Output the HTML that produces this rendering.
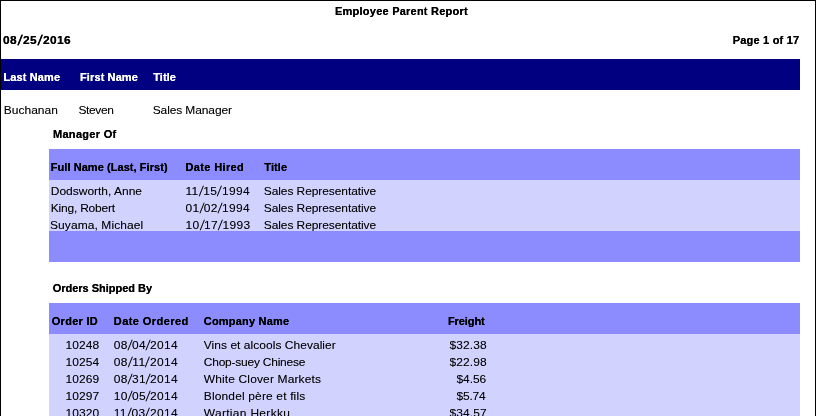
<!DOCTYPE html>
<html>
<head>
<meta charset="utf-8">
<title>Employee Parent Report</title>
<style>
html,body{margin:0;padding:0;background:#fff;}
body{width:816px;height:416px;overflow:hidden;position:relative;font-family:"Liberation Sans",sans-serif;font-size:11px;color:#000;}
#page{position:absolute;left:0;top:0;width:814px;height:430px;border:1px solid #000;border-bottom:none;background:#fff;}
.band{position:absolute;}
.navy{background:#000080;}
.mid{background:#8c8cff;}
.light{background:#d2d2ff;}
.t{position:absolute;white-space:nowrap;line-height:14px;height:14px;text-shadow:0 0 0 rgba(0,0,0,0.35);}
.b{font-weight:bold;text-shadow:0 0 0 currentColor;}
.r{font-size:12px;transform-origin:0 11px;transform:scaleY(0.9167);}
.w{color:#fff;}
.s{display:inline-block;transform:skewX(-9deg) scaleY(1.3);transform-origin:50% 7.5px;}
.b .s{transform:skewX(-12deg) scaleY(1.3);}
</style>
</head>
<body>
<div id="page"></div>

<div class="band navy" style="left:1px;top:59px;width:799px;height:31px"></div>
<div class="band mid" style="left:49px;top:149px;width:751px;height:31px"></div>
<div class="band light" style="left:49px;top:180px;width:751px;height:51px"></div>
<div class="band mid" style="left:49px;top:231px;width:751px;height:31px"></div>
<div class="band mid" style="left:49px;top:303px;width:751px;height:31px"></div>
<div class="band light" style="left:49px;top:334px;width:751px;height:90px"></div>

<div class="t b" style="left:335.00px;top:4px;letter-spacing:0.234px">Employee Parent Report</div>
<div class="t b r" style="left:3.00px;top:33px;letter-spacing:0.33px">08<span class="s" style="padding:0 1.16px">/</span>25<span class="s" style="padding:0 1.16px">/</span>2016</div>
<div class="t b" style="left:732.75px;top:33px;letter-spacing:0.197px">Page 1 of 17</div>
<div class="t b w" style="left:3.50px;top:70px;letter-spacing:0.123px">Last Name</div>
<div class="t b w" style="left:80.00px;top:70px;letter-spacing:0.113px">First Name</div>
<div class="t b w" style="left:153.25px;top:70px;letter-spacing:0.051px">Title</div>
<div class="t r" style="left:3.75px;top:103px;letter-spacing:0.018px">Buchanan</div>
<div class="t r" style="left:78.50px;top:103px;letter-spacing:-0.387px">Steven</div>
<div class="t r" style="left:152.70px;top:103px;letter-spacing:-0.118px">Sales Manager</div>
<div class="t b" style="left:53.00px;top:127px;letter-spacing:0.295px">Manager Of</div>
<div class="t b" style="left:50.75px;top:160px;letter-spacing:0.063px">Full Name (Last, First)</div>
<div class="t b" style="left:185.50px;top:160px;letter-spacing:0.356px">Date Hired</div>
<div class="t b" style="left:264.25px;top:160px;letter-spacing:0.114px">Title</div>
<div class="t r" style="left:50.75px;top:184px;letter-spacing:-0.009px">Dodsworth, Anne</div>
<div class="t r" style="left:185.50px;top:184px;letter-spacing:0.33px">11<span class="s" style="padding:0 0.51px">/</span>15<span class="s" style="padding:0 0.51px">/</span>1994</div>
<div class="t r" style="left:263.75px;top:184px;letter-spacing:-0.086px">Sales Representative</div>
<div class="t r" style="left:50.75px;top:201px;letter-spacing:-0.215px">King, Robert</div>
<div class="t r" style="left:185.50px;top:201px;letter-spacing:0.33px">01<span class="s" style="padding:0 0.29px">/</span>02<span class="s" style="padding:0 0.29px">/</span>1994</div>
<div class="t r" style="left:263.75px;top:201px;letter-spacing:-0.086px">Sales Representative</div>
<div class="t r" style="left:50.00px;top:218px;letter-spacing:0.080px">Suyama, Michael</div>
<div class="t r" style="left:185.50px;top:218px;letter-spacing:0.33px">10<span class="s" style="padding:0 0.41px">/</span>17<span class="s" style="padding:0 0.41px">/</span>1993</div>
<div class="t r" style="left:263.75px;top:218px;letter-spacing:-0.086px">Sales Representative</div>
<div class="t b" style="left:52.75px;top:281px;letter-spacing:-0.017px">Orders Shipped By</div>
<div class="t b" style="left:51.75px;top:314px;letter-spacing:0.276px">Order ID</div>
<div class="t b" style="left:113.75px;top:314px;letter-spacing:0.434px">Date Ordered</div>
<div class="t b" style="left:203.75px;top:314px;letter-spacing:0.203px">Company Name</div>
<div class="t b" style="left:448.00px;top:314px;letter-spacing:-0.102px">Freight</div>
<div class="t r" style="left:65.50px;top:338px;letter-spacing:0.076px">10248</div>
<div class="t r" style="left:113.75px;top:338px;letter-spacing:0.33px">08<span class="s" style="padding:0 0.22px">/</span>04<span class="s" style="padding:0 0.22px">/</span>2014</div>
<div class="t r" style="left:203.75px;top:338px;letter-spacing:0.034px">Vins et alcools Chevalier</div>
<div class="t r" style="left:449.50px;top:338px;letter-spacing:0.094px">$32.38</div>
<div class="t r" style="left:65.50px;top:355px;letter-spacing:0.076px">10254</div>
<div class="t r" style="left:113.75px;top:355px;letter-spacing:0.33px">08<span class="s" style="padding:0 0.45px">/</span>11<span class="s" style="padding:0 0.45px">/</span>2014</div>
<div class="t r" style="left:203.75px;top:355px;letter-spacing:-0.232px">Chop-suey Chinese</div>
<div class="t r" style="left:449.50px;top:355px;letter-spacing:0.094px">$22.98</div>
<div class="t r" style="left:65.50px;top:372px;letter-spacing:0.076px">10269</div>
<div class="t r" style="left:113.75px;top:372px;letter-spacing:0.33px">08<span class="s" style="padding:0 0.22px">/</span>31<span class="s" style="padding:0 0.22px">/</span>2014</div>
<div class="t r" style="left:203.75px;top:372px;letter-spacing:0.135px">White Clover Markets</div>
<div class="t r" style="left:456.50px;top:372px;letter-spacing:-0.089px">$4.56</div>
<div class="t r" style="left:65.50px;top:389px;letter-spacing:0.076px">10297</div>
<div class="t r" style="left:113.75px;top:389px;letter-spacing:0.33px">10<span class="s" style="padding:0 0.22px">/</span>05<span class="s" style="padding:0 0.22px">/</span>2014</div>
<div class="t r" style="left:203.75px;top:389px;letter-spacing:0.146px">Blondel père et fils</div>
<div class="t r" style="left:456.50px;top:389px;letter-spacing:-0.214px">$5.74</div>
<div class="t r" style="left:65.50px;top:406px;letter-spacing:0.076px">10320</div>
<div class="t r" style="left:113.75px;top:406px;letter-spacing:0.33px">11<span class="s" style="padding:0 0.45px">/</span>03<span class="s" style="padding:0 0.45px">/</span>2014</div>
<div class="t r" style="left:203.75px;top:406px;letter-spacing:0.302px">Wartian Herkku</div>
<div class="t r" style="left:449.50px;top:406px;letter-spacing:0.094px">$34.57</div>
</body>
</html>
